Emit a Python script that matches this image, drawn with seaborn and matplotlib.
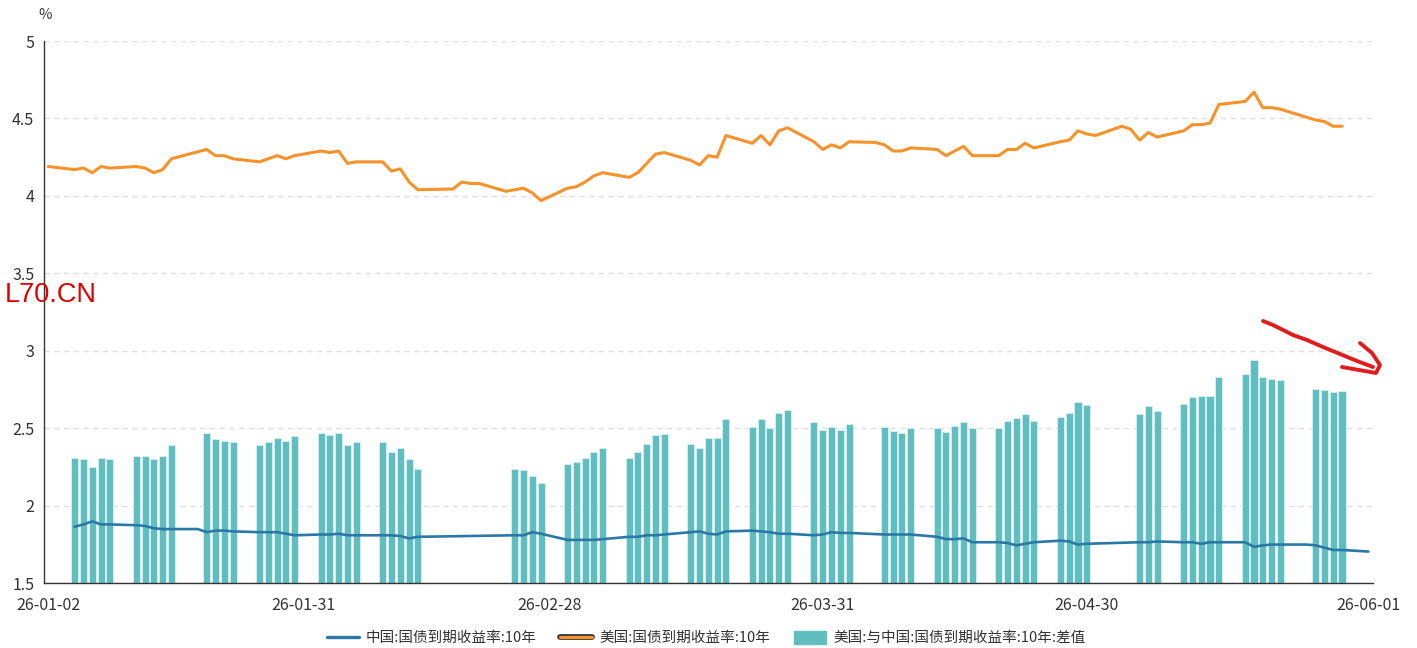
import matplotlib
import matplotlib.pyplot as plt
import matplotlib.dates as mdates
import matplotlib.patheffects as pe
import pandas as pd
import seaborn as sns
from matplotlib.lines import Line2D
from matplotlib.patches import Patch

matplotlib.use("Agg")

# US 10y treasury yield (US trading days)
us_dates = [
    "2026-01-02",
    "2026-01-05", "2026-01-06", "2026-01-07", "2026-01-08", "2026-01-09",
    "2026-01-12", "2026-01-13", "2026-01-14", "2026-01-15", "2026-01-16",
    "2026-01-20", "2026-01-21", "2026-01-22", "2026-01-23",
    "2026-01-26", "2026-01-27", "2026-01-28", "2026-01-29", "2026-01-30",
    "2026-02-02", "2026-02-03", "2026-02-04", "2026-02-05", "2026-02-06",
    "2026-02-09", "2026-02-10", "2026-02-11", "2026-02-12", "2026-02-13",
    "2026-02-17", "2026-02-18", "2026-02-19", "2026-02-20",
    "2026-02-23", "2026-02-24", "2026-02-25", "2026-02-26", "2026-02-27",
    "2026-03-02", "2026-03-03", "2026-03-04", "2026-03-05", "2026-03-06",
    "2026-03-09", "2026-03-10", "2026-03-11", "2026-03-12", "2026-03-13",
    "2026-03-16", "2026-03-17", "2026-03-18", "2026-03-19", "2026-03-20",
    "2026-03-23", "2026-03-24", "2026-03-25", "2026-03-26", "2026-03-27",
    "2026-03-30", "2026-03-31", "2026-04-01", "2026-04-02", "2026-04-03",
    "2026-04-06", "2026-04-07", "2026-04-08", "2026-04-09", "2026-04-10",
    "2026-04-13", "2026-04-14", "2026-04-15", "2026-04-16", "2026-04-17",
    "2026-04-20", "2026-04-21", "2026-04-22", "2026-04-23", "2026-04-24",
    "2026-04-27", "2026-04-28", "2026-04-29", "2026-04-30", "2026-05-01",
    "2026-05-04", "2026-05-05", "2026-05-06", "2026-05-07", "2026-05-08",
    "2026-05-11", "2026-05-12", "2026-05-13", "2026-05-14", "2026-05-15",
    "2026-05-18", "2026-05-19", "2026-05-20", "2026-05-21", "2026-05-22",
    "2026-05-26", "2026-05-27", "2026-05-28", "2026-05-29",
]
us_yield = [
    4.19,
    4.17, 4.18, 4.15, 4.19, 4.18,
    4.19, 4.18, 4.15, 4.17, 4.24,
    4.30, 4.26, 4.26, 4.24,
    4.22, 4.24, 4.26, 4.24, 4.26,
    4.29, 4.28, 4.29, 4.21, 4.22,
    4.22, 4.16, 4.175, 4.09, 4.04,
    4.045, 4.09, 4.08, 4.08,
    4.03, 4.04, 4.05, 4.02, 3.97,
    4.05, 4.06, 4.09, 4.13, 4.15,
    4.12, 4.15, 4.21, 4.27, 4.28,
    4.23, 4.20, 4.26, 4.25, 4.39,
    4.34, 4.39, 4.33, 4.42, 4.44,
    4.35, 4.30, 4.33, 4.31, 4.35,
    4.345, 4.33, 4.29, 4.29, 4.31,
    4.30, 4.26, 4.29, 4.32, 4.26,
    4.26, 4.30, 4.30, 4.34, 4.31,
    4.35, 4.36, 4.42, 4.40, 4.39,
    4.45, 4.43, 4.36, 4.41, 4.38,
    4.42, 4.46, 4.46, 4.47, 4.59,
    4.61, 4.67, 4.57, 4.57, 4.56,
    4.49, 4.48, 4.45, 4.45,
]

# China 10y government bond yield (China trading days)
cn_dates = [
    "2026-01-05", "2026-01-06", "2026-01-07", "2026-01-08", "2026-01-09",
    "2026-01-12", "2026-01-13", "2026-01-14", "2026-01-15", "2026-01-16",
    "2026-01-19", "2026-01-20", "2026-01-21", "2026-01-22", "2026-01-23",
    "2026-01-26", "2026-01-27", "2026-01-28", "2026-01-29", "2026-01-30",
    "2026-02-02", "2026-02-03", "2026-02-04", "2026-02-05", "2026-02-06",
    "2026-02-09", "2026-02-10", "2026-02-11", "2026-02-12", "2026-02-13",
    "2026-02-24", "2026-02-25", "2026-02-26", "2026-02-27",
    "2026-03-02", "2026-03-03", "2026-03-04", "2026-03-05", "2026-03-06",
    "2026-03-09", "2026-03-10", "2026-03-11", "2026-03-12", "2026-03-13",
    "2026-03-16", "2026-03-17", "2026-03-18", "2026-03-19", "2026-03-20",
    "2026-03-23", "2026-03-24", "2026-03-25", "2026-03-26", "2026-03-27",
    "2026-03-30", "2026-03-31", "2026-04-01", "2026-04-02", "2026-04-03",
    "2026-04-07", "2026-04-08", "2026-04-09", "2026-04-10",
    "2026-04-13", "2026-04-14", "2026-04-15", "2026-04-16", "2026-04-17",
    "2026-04-20", "2026-04-21", "2026-04-22", "2026-04-23", "2026-04-24",
    "2026-04-27", "2026-04-28", "2026-04-29", "2026-04-30",
    "2026-05-06", "2026-05-07", "2026-05-08",
    "2026-05-11", "2026-05-12", "2026-05-13", "2026-05-14", "2026-05-15",
    "2026-05-18", "2026-05-19", "2026-05-20", "2026-05-21", "2026-05-22",
    "2026-05-25", "2026-05-26", "2026-05-27", "2026-05-28", "2026-05-29",
    "2026-06-01",
]
cn_yield = [
    1.865, 1.88, 1.90, 1.88, 1.88,
    1.875, 1.87, 1.855, 1.85, 1.85,
    1.85, 1.83, 1.84, 1.84, 1.835,
    1.83, 1.83, 1.83, 1.82, 1.81,
    1.815, 1.815, 1.82, 1.81, 1.81,
    1.81, 1.81, 1.805, 1.79, 1.80,
    1.81, 1.81, 1.83, 1.82,
    1.78, 1.78, 1.78, 1.78, 1.785,
    1.80, 1.80, 1.81, 1.81, 1.815,
    1.83, 1.835, 1.82, 1.815, 1.835,
    1.84, 1.835, 1.83, 1.82, 1.82,
    1.81, 1.815, 1.83, 1.825, 1.825,
    1.815, 1.815, 1.815, 1.815,
    1.80, 1.785, 1.785, 1.79, 1.765,
    1.765, 1.76, 1.745, 1.755, 1.765,
    1.775, 1.77, 1.75, 1.755,
    1.765, 1.765, 1.77,
    1.765, 1.765, 1.755, 1.765, 1.765,
    1.765, 1.735, 1.745, 1.75, 1.75,
    1.75, 1.745, 1.73, 1.715, 1.715,
    1.705,
]

# spread bars, on days both markets traded
spread = [
    2.31, 2.30, 2.25, 2.31, 2.30,
    2.32, 2.32, 2.30, 2.32, 2.39,
    2.47, 2.43, 2.42, 2.41,
    2.39, 2.41, 2.44, 2.42, 2.45,
    2.47, 2.46, 2.47, 2.39, 2.41,
    2.41, 2.35, 2.37, 2.30, 2.24,
    2.235, 2.23, 2.19, 2.15,
    2.27, 2.28, 2.31, 2.35, 2.375,
    2.31, 2.35, 2.40, 2.46, 2.465,
    2.40, 2.37, 2.44, 2.435, 2.56,
    2.51, 2.56, 2.50, 2.60, 2.62,
    2.54, 2.49, 2.51, 2.49, 2.53,
    2.51, 2.48, 2.47, 2.50,
    2.50, 2.475, 2.515, 2.54, 2.50,
    2.50, 2.55, 2.565, 2.59, 2.55,
    2.575, 2.60, 2.67, 2.65,
    2.59, 2.645, 2.61,
    2.66, 2.70, 2.71, 2.71, 2.83,
    2.85, 2.94, 2.83, 2.82, 2.81,
    2.755, 2.75, 2.735, 2.74,
]
spread_dates = sorted(set(us_dates) & set(cn_dates))

tick_dates = ["2026-01-02", "2026-01-31", "2026-02-28", "2026-03-31", "2026-04-30", "2026-06-01"]
y_ticks = [1.5, 2, 2.5, 3, 3.5, 4, 4.5, 5]

legend_labels = ["中国:国债到期收益率:10年", "美国:国债到期收益率:10年", "美国:与中国:国债到期收益率:10年:差值"]

C_CN = "#2a78a8"
C_US = "#f7912a"
C_BAR = "#60bec1"
C_TEXT = "#333333"

W, H = 1417, 648


def num(dates):
    return mdates.date2num(pd.to_datetime(dates))


sns.set_theme(style="white")
plt.rcParams["font.family"] = ["Noto Sans CJK SC", "DejaVu Sans"]

fig = plt.figure(figsize=(W / 100, H / 100), dpi=100)
ax = fig.add_axes([44 / W, 1 - 583.3 / H, (1373 - 44) / W, (583.3 - 41) / H])

bars = pd.DataFrame({"x": num(spread_dates), "y": spread})
sns.barplot(data=bars, x="x", y="y", native_scale=True, width=0.8, color=C_BAR,
            saturation=1, edgecolor="#d8f0f0", linewidth=0.6, errorbar=None, ax=ax, zorder=2)

sns.lineplot(x=num(cn_dates), y=cn_yield, color=C_CN, lw=1.9, sort=False, ax=ax, zorder=3)
sns.lineplot(x=num(us_dates), y=us_yield, color=C_US, lw=2.2, sort=False, ax=ax, zorder=4)

start = num(["2026-01-02"])[0]
end = num(["2026-06-01"])[0]
ax.set_xlim(start - 0.48, end + 0.52)
ax.set_ylim(1.5, 5)

ax.set_xticks(num(tick_dates))
ax.set_xticks(num(["2026-05-31"]), minor=True)
ax.xaxis.set_major_formatter(mdates.DateFormatter("%y-%m-%d"))
ax.set_yticks(y_ticks)
ax.set_yticklabels(["%g" % v for v in y_ticks])
ax.set_xlabel("")
ax.set_ylabel("")

ax.tick_params(axis="both", which="both", direction="out", length=6.5, width=1,
               color=C_TEXT, labelcolor=C_TEXT, labelsize=11.5)
ax.tick_params(axis="x", which="both", length=7, pad=3)
ax.tick_params(axis="y", pad=0.5)

ax.yaxis.grid(True, color="#e0e0e0", lw=1, ls=(0, (4, 3)))
ax.xaxis.grid(False)
ax.set_axisbelow(True)
for side in ["top", "right"]:
    ax.spines[side].set_visible(False)
for side in ["left", "bottom"]:
    ax.spines[side].set_color(C_TEXT)
    ax.spines[side].set_linewidth(1)

fig.text(38 / W, 1 - 15 / H, "%", fontsize=10.5, color=C_TEXT, va="center", ha="left")
fig.text(5 / W, 1 - 295 / H, "L70.CN", fontsize=19.5, color="#e00000", va="center", ha="left",
         family="Liberation Sans")

# hand drawn red arrow
arrow_x = [1263, 1273, 1293, 1307, 1323, 1340, 1357, 1373]
arrow_y = [321, 325, 335, 340, 347, 354, 361, 367]
head_x = [1360, 1372, 1380, 1376, 1342]
head_y = [343, 353, 365, 373, 367]
for xs, ys in [(arrow_x, arrow_y), (head_x, head_y)]:
    fig.add_artist(Line2D([v / W for v in xs], [1 - v / H for v in ys], color="#e21c1c",
                          lw=2.8, solid_capstyle="round", solid_joinstyle="round",
                          transform=fig.transFigure))

handles = [
    Line2D([], [], color=C_CN, lw=2.4),
    Line2D([], [], color=C_US, lw=2.2,
           path_effects=[pe.Stroke(linewidth=4.2, foreground="#3a3a3a"), pe.Normal()]),
    Patch(facecolor=C_BAR, edgecolor=C_BAR),
]
fig.legend(handles, legend_labels, loc="center", bbox_to_anchor=(706 / W, 1 - 638 / H), ncol=3,
           frameon=False, fontsize=10.5, handlelength=2.2, handleheight=1.0, handletextpad=0.5,
           columnspacing=1.6, labelcolor=C_TEXT)

plt.savefig("out.png", dpi=100)
plt.close("all")
